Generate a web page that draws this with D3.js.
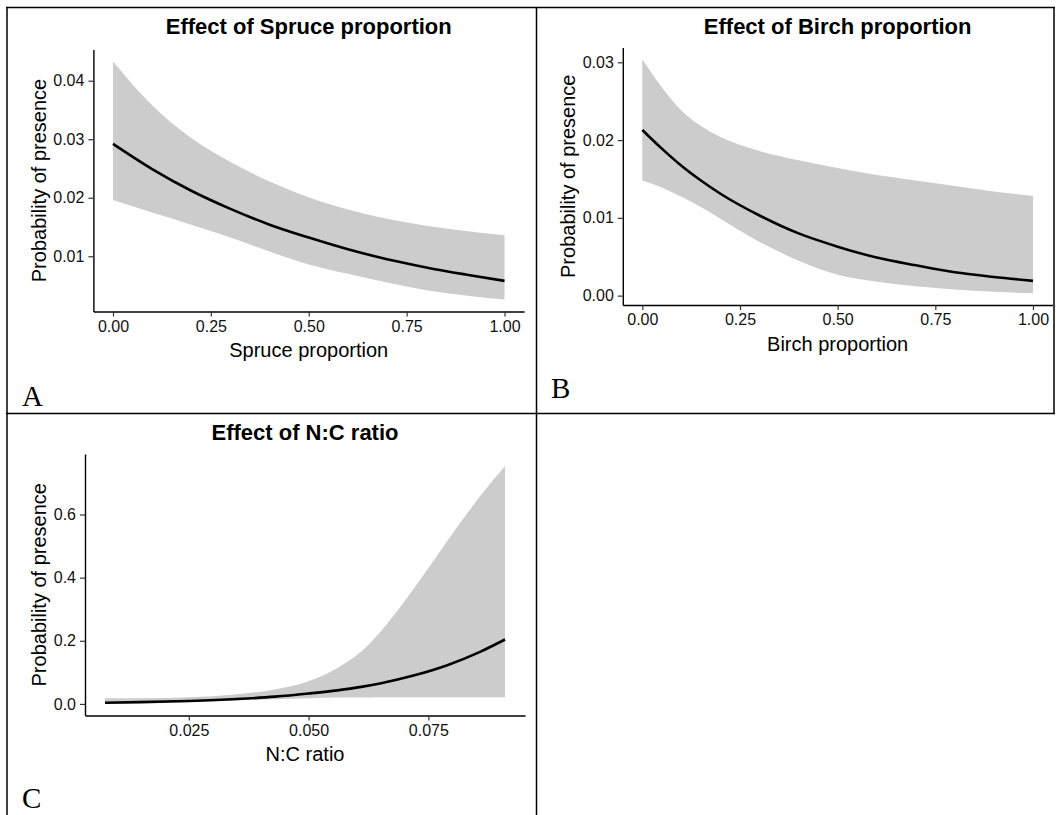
<!DOCTYPE html>
<html>
<head>
<meta charset="utf-8">
<script src="https://cdn.jsdelivr.net/npm/d3@7"></script>
<style>
  body { margin: 0; background: #fff; }
  svg { display: block; }
</style>
</head>
<body>
<div id="chart"></div>
<script>
// values
const spruceX     = [0, 0.1, 0.2, 0.3, 0.4, 0.5, 0.6, 0.7, 0.8, 0.9, 1.0];
const spruceFit   = [0.0292, 0.0249, 0.0212, 0.0181, 0.0154, 0.0132, 0.0112, 0.0095, 0.0081, 0.0069, 0.0058];
const spruceUpper = [0.0433, 0.0358, 0.0302, 0.0261, 0.0228, 0.0201, 0.0180, 0.0164, 0.0152, 0.0143, 0.0136];
const spruceLower = [0.0196, 0.0175, 0.0154, 0.0132, 0.0108, 0.0086, 0.0070, 0.0055, 0.0042, 0.0033, 0.0026];

const birchX     = [0, 0.05, 0.1, 0.15, 0.2, 0.3, 0.4, 0.5, 0.6, 0.7, 0.8, 0.9, 1.0];
const birchFit   = [0.0213, 0.0189, 0.0167, 0.0148, 0.0131, 0.0103, 0.0080, 0.0063, 0.0049, 0.0039, 0.0030, 0.0024, 0.0019];
const birchUpper = [0.0304, 0.0268, 0.0238, 0.0218, 0.0204, 0.0186, 0.0174, 0.0164, 0.0155, 0.0148, 0.0141, 0.0134, 0.0128];
const birchLower = [0.0148, 0.0139, 0.0127, 0.0114, 0.0099, 0.0069, 0.0045, 0.0027, 0.0018, 0.0012, 0.0008, 0.0005, 0.0003];

const ncX     = [0.0075, 0.015, 0.025, 0.035, 0.043, 0.05, 0.056, 0.061, 0.0649, 0.0719, 0.0788, 0.0858, 0.091];
const ncFit   = [0.0039, 0.0058, 0.0095, 0.0155, 0.023, 0.033, 0.043, 0.054, 0.065, 0.090, 0.122, 0.165, 0.204];
const ncUpper = [0.018, 0.018, 0.021, 0.031, 0.046, 0.072, 0.114, 0.166, 0.227, 0.364, 0.513, 0.658, 0.754];
const ncLower = [0.001, 0.003, 0.006, 0.011, 0.015, 0.018, 0.020, 0.020, 0.021, 0.021, 0.021, 0.021, 0.021];

const propTicks = [0, 0.25, 0.5, 0.75, 1];
const ncTicks = [0.025, 0.05, 0.075];
const spruceYTicks = [0.01, 0.02, 0.03, 0.04];
const birchYTicks = [0, 0.01, 0.02, 0.03];
const ncYTicks = [0, 0.2, 0.4, 0.6];

const width = 1058, height = 815;

const svg = d3.select("#chart")
  .append("svg")
  .attr("width", width)
  .attr("height", height);

// table grid around the panels
const grid = svg.append("g").attr("stroke", "#000").attr("stroke-width", 1.5);
grid.append("line").attr("x1", 6).attr("x2", 1055).attr("y1", 7.5).attr("y2", 7.5);
grid.append("line").attr("x1", 6).attr("x2", 1055).attr("y1", 413.5).attr("y2", 413.5);
grid.append("line").attr("x1", 7).attr("x2", 7).attr("y1", 7).attr("y2", height);
grid.append("line").attr("x1", 536.5).attr("x2", 536.5).attr("y1", 7).attr("y2", height);
grid.append("line").attr("x1", 1054).attr("x2", 1054).attr("y1", 7).attr("y2", 414);

// ggplot style expansion of the limits
function expand(vals) {
  const [lo, hi] = d3.extent(vals);
  const r = hi - lo;
  return [lo - 0.05 * r, hi + 0.05 * r];
}

function panel(cfg) {
  const xs = d3.scaleLinear().domain(expand(cfg.x)).range([cfg.left, cfg.right]);
  const ys = d3.scaleLinear().domain(expand(cfg.lower.concat(cfg.upper))).range([cfg.bottom, cfg.top]);
  const rows = cfg.x.map((x, i) => ({ x: x, fit: cfg.fit[i], lo: cfg.lower[i], hi: cfg.upper[i] }));

  const g = svg.append("g");

  // confidence ribbon
  g.append("path")
    .datum(rows)
    .attr("fill", "#cccccc")
    .attr("d", d3.area()
      .curve(d3.curveMonotoneX)
      .x(d => xs(d.x))
      .y0(d => ys(d.lo))
      .y1(d => ys(d.hi)));

  // fitted line
  g.append("path")
    .datum(rows)
    .attr("fill", "none")
    .attr("stroke", "#000")
    .attr("stroke-width", 2.6)
    .attr("d", d3.line()
      .curve(d3.curveMonotoneX)
      .x(d => xs(d.x))
      .y(d => ys(d.fit)));

  // axes
  const xAxis = g.append("g")
    .attr("transform", `translate(0,${cfg.bottom})`)
    .call(d3.axisBottom(xs).tickValues(cfg.xTicks).tickFormat(d3.format(cfg.xFmt))
      .tickSizeInner(5).tickSizeOuter(0).tickPadding(4));
  const yAxis = g.append("g")
    .attr("transform", `translate(${cfg.left},0)`)
    .call(d3.axisLeft(ys).tickValues(cfg.yTicks).tickFormat(d3.format(cfg.yFmt))
      .tickSizeInner(5).tickSizeOuter(0).tickPadding(4));

  [xAxis, yAxis].forEach(a => {
    a.attr("font-size", 16).attr("font-family", "'Liberation Sans', Arial, sans-serif");
    a.select(".domain").attr("stroke", "#000").attr("stroke-width", 1.4);
    a.selectAll(".tick line").attr("stroke", "#333").attr("stroke-width", 1.2);
    a.selectAll(".tick text").attr("fill", "#111");
  });

  const cx = (cfg.left + cfg.right) / 2;
  const cy = (cfg.top + cfg.bottom) / 2;

  g.append("text")
    .attr("x", cx)
    .attr("y", cfg.titleY)
    .attr("text-anchor", "middle")
    .style("font-family", "'Liberation Sans', Arial, sans-serif")
    .style("font-weight", "bold")
    .style("font-size", "22px")
    .text(cfg.title);

  g.append("text")
    .attr("x", cx)
    .attr("y", cfg.bottom + 45.5)
    .attr("text-anchor", "middle")
    .style("font-family", "'Liberation Sans', Arial, sans-serif")
    .style("font-size", "20px")
    .text(cfg.xLabel);

  g.append("text")
    .attr("transform", `translate(${cfg.yLabelX},${cy}) rotate(-90)`)
    .attr("text-anchor", "middle")
    .style("font-family", "'Liberation Sans', Arial, sans-serif")
    .style("font-size", "20px")
    .text("Probability of presence");

  // panel letter
  g.append("text")
    .attr("x", cfg.letterX)
    .attr("y", cfg.letterY)
    .style("font-family", "'Liberation Serif', 'Times New Roman', serif")
    .style("font-size", "29px")
    .text(cfg.letter);
}

panel({
  x: spruceX, fit: spruceFit, lower: spruceLower, upper: spruceUpper,
  left: 93.4, right: 524.1, top: 49.5, bottom: 311.5,
  xTicks: propTicks, xFmt: ".2f", yTicks: spruceYTicks, yFmt: ".2f",
  title: "Effect of Spruce proportion", titleY: 34,
  xLabel: "Spruce proportion", yLabelX: 46,
  letter: "A", letterX: 22, letterY: 406
});

panel({
  x: birchX, fit: birchFit, lower: birchLower, upper: birchUpper,
  left: 622.8, right: 1052.5, top: 47.5, bottom: 305,
  xTicks: propTicks, xFmt: ".2f", yTicks: birchYTicks, yFmt: ".2f",
  title: "Effect of Birch proportion", titleY: 34,
  xLabel: "Birch proportion", yLabelX: 575,
  letter: "B", letterX: 551, letterY: 397.5
});

panel({
  x: ncX, fit: ncFit, lower: ncLower, upper: ncUpper,
  left: 85, right: 525, top: 454, bottom: 715.5,
  xTicks: ncTicks, xFmt: ".3f", yTicks: ncYTicks, yFmt: ".1f",
  title: "Effect of N:C ratio", titleY: 440,
  xLabel: "N:C ratio", yLabelX: 46,
  letter: "C", letterX: 22, letterY: 808
});
</script>
</body>
</html>
